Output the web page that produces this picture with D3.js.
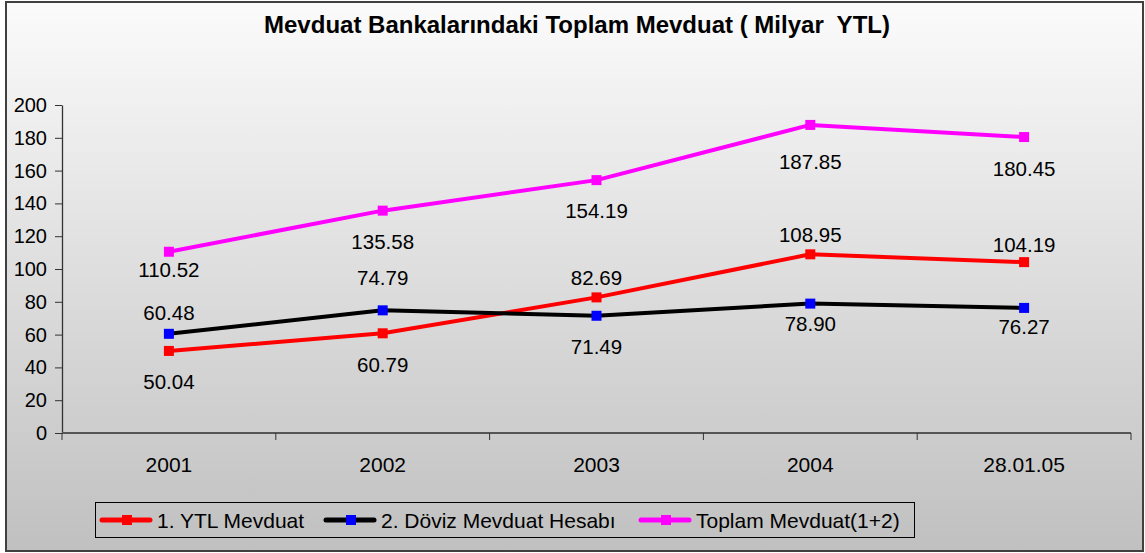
<!DOCTYPE html>
<html><head><meta charset="utf-8">
<script src="https://cdn.jsdelivr.net/npm/d3@7"></script>
<style>body{margin:0;background:#fff;}svg{display:block;font-family:"Liberation Sans",Arial,sans-serif;}</style>
</head><body>
<svg id="c" width="1145" height="553"></svg>
<script>
const categories = ["2001", "2002", "2003", "2004", "28.01.05"];
const ytl = [50.04, 60.79, 82.69, 108.95, 104.19];
const doviz = [60.48, 74.79, 71.49, 78.90, 76.27];
const toplam = [110.52, 135.58, 154.19, 187.85, 180.45];
const yTicks = [0, 20, 40, 60, 80, 100, 120, 140, 160, 180, 200];
const seriesNames = ["1. YTL Mevduat", "2. Döviz Mevduat Hesabı", "Toplam Mevduat(1+2)"];
const title = "Mevduat Bankalarındaki Toplam Mevduat ( Milyar  YTL)";

// label placement offsets (layout only)
const labelDy = [
  [31, 32, -19, -19, -17],
  [-21, -32, 31, 20, 19],
  [18, 31, 31, 37, 32]
];

const series = [
  {name: seriesNames[0], values: ytl, line: "#ff0000", marker: "#ff0000"},
  {name: seriesNames[1], values: doviz, line: "#000000", marker: "#0000ff"},
  {name: seriesNames[2], values: toplam, line: "#ff00ff", marker: "#ff00ff"}
];

const svg = d3.select("#c");
const defs = svg.append("defs");
const g = defs.append("linearGradient").attr("id","bg").attr("x1",0).attr("y1",0).attr("x2",0).attr("y2",1);
g.append("stop").attr("offset","0%").attr("stop-color","#fbfbfb");
g.append("stop").attr("offset","100%").attr("stop-color","#c0c0c0");

svg.append("rect").attr("x",6).attr("y",2).attr("width",1137).attr("height",549)
  .attr("fill","url(#bg)").attr("stroke","#404040").attr("stroke-width",2);

svg.append("text").attr("x",577).attr("y",33).attr("text-anchor","middle")
  .style("white-space","pre").attr("xml:space","preserve")
  .attr("font-weight","bold").attr("font-size",24).attr("fill","#000").text(title);

const pL = 62, pR = 1131, pT = 105, pB = 433;
const x = d3.scaleBand().domain(categories).range([pL, pR]);
const y = d3.scaleLinear().domain([0, 200]).range([pB, pT]);

// axes
const yAxis = d3.axisLeft(y).tickValues(yTicks).tickSize(7).tickSizeOuter(0).tickPadding(8);
const ya = svg.append("g").attr("transform",`translate(${pL},0)`).call(yAxis);
ya.select(".domain").attr("stroke","#333").attr("stroke-width",1.3);
ya.selectAll(".tick line").attr("stroke","#333");
ya.selectAll("text").attr("font-size",20).attr("fill","#000").attr("font-family","Liberation Sans, Arial, sans-serif");

const xa = svg.append("g").attr("transform",`translate(0,${pB})`);
xa.append("line").attr("x1",pL).attr("x2",pR).attr("y1",0).attr("y2",0).attr("stroke","#555").attr("stroke-width",2);
const bounds = categories.map(c => x(c)).concat([pR]);
xa.selectAll(".xt").data(bounds).join("line").attr("class","xt")
  .attr("x1",d=>d).attr("x2",d=>d).attr("y1",0).attr("y2",7).attr("stroke","#333");
xa.selectAll(".xl").data(categories).join("text").attr("class","xl")
  .attr("x",d=>x(d)+x.bandwidth()/2).attr("y",39).attr("text-anchor","middle")
  .attr("font-size",21).attr("fill","#000").text(d=>d);

const cx = d => x(d) + x.bandwidth()/2;
const line = d3.line().x((d,i)=>cx(categories[i])).y(d=>y(d));

series.forEach((s, si) => {
  svg.append("path").datum(s.values).attr("d", line).attr("fill","none")
    .attr("stroke", s.line).attr("stroke-width",4).attr("stroke-linejoin","round");
  svg.selectAll(".m"+si).data(s.values).join("rect").attr("class","m"+si)
    .attr("x",(d,i)=>cx(categories[i])-5).attr("y",d=>y(d)-5).attr("width",10).attr("height",10)
    .attr("fill", s.marker);
  svg.selectAll(".l"+si).data(s.values).join("text").attr("class","l"+si)
    .attr("x",(d,i)=>cx(categories[i])).attr("y",(d,i)=>y(d)+labelDy[si][i]+7)
    .attr("text-anchor","middle").attr("font-size",20.5).attr("fill","#000")
    .text(d=>d.toFixed(2));
});

// legend
const lg = svg.append("g");
lg.append("rect").attr("x",95.5).attr("y",502.5).attr("width",819).attr("height",35)
  .attr("fill","none").attr("stroke","#000").attr("stroke-width",1);
const legX = [102, 326, 641];
series.forEach((s, si) => {
  const lx = legX[si], ly = 520;
  lg.append("line").attr("x1",lx).attr("x2",lx+48).attr("y1",ly).attr("y2",ly)
    .attr("stroke",s.line).attr("stroke-width",5).attr("stroke-linecap","round");
  lg.append("rect").attr("x",lx+20).attr("y",ly-5).attr("width",10).attr("height",10).attr("fill",s.marker);
  lg.append("text").attr("x",lx+55).attr("y",ly+8).attr("font-size",21).attr("fill","#000").text(s.name);
});
</script>
</body></html>
